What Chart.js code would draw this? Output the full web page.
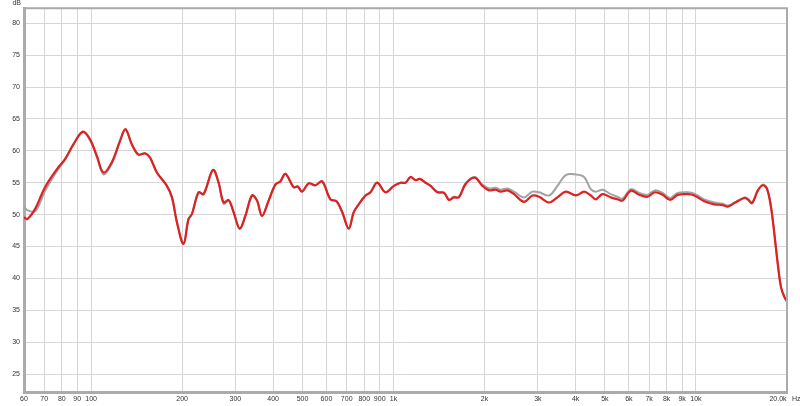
<!DOCTYPE html>
<html>
<head>
<meta charset="utf-8">
<script src="https://cdn.jsdelivr.net/npm/chart.js@4.4.1/dist/chart.umd.min.js"></script>
<style>
  html, body { margin: 0; padding: 0; background: #fff; }
  #wrap { width: 800px; height: 406px; }
</style>
</head>
<body>
<div id="wrap"><canvas id="chart-fr" width="800" height="406"></canvas></div>
<script>
// ── Données ─────────────────────────────────────────────────────────────────
const freqs = [
  60, 61.5, 65.3, 70.4, 77, 82, 87.4, 93.9, 99.2, 104.5,
  109.9, 117.1, 124.7, 129.9, 136.4, 143.5, 150.9, 156.8, 165, 178.1,
  185.1, 192.2, 202.1, 209.9, 215.5, 226.7, 235.4, 252.9, 264, 274.3,
  284.9, 295.9, 309.9, 323.6, 340.5, 353.7, 367.5, 386.4, 406.7, 422.5,
  438.9, 467.7, 482.1, 498.5, 524.3, 551.8, 580.7, 618.4, 647.6, 676.4,
  711.2, 738.8, 767.5, 807.8, 839, 883.1, 940.8, 1003, 1055, 1096,
  1138, 1183, 1222, 1276, 1326, 1396, 1468, 1525, 1584, 1645,
  1731, 1855, 1967, 2068, 2177, 2261, 2380, 2503, 2701, 2879,
  3028, 3268, 3484, 3711, 4007, 4267, 4490, 4664, 4911, 5232,
  5506, 5718, 6092, 6489, 6918, 7314, 7757, 8222, 8699, 9389,
  9872, 10650, 11497, 12260, 12737, 13395, 14454, 14830, 15330, 16012,
  16632, 17184, 17717, 18166, 18640, 19115, 19603, 20000
];

const redDb = [
  49.6, 49.3, 50.9, 54.3, 57.1, 58.7, 61.0, 63.0, 61.8, 59.2,
  56.6, 58.2, 61.6, 63.4, 61.0, 59.4, 59.6, 58.9, 56.6, 54.5,
  52.7, 48.8, 45.4, 49.3, 50.1, 53.5, 53.2, 57.0, 55.0, 51.9,
  52.3, 50.4, 47.8, 49.8, 53.0, 52.2, 49.8, 52.2, 54.7, 55.2,
  56.4, 54.3, 54.4, 53.6, 54.9, 54.6, 55.2, 52.4, 52.1, 50.4,
  47.8, 50.4, 51.6, 53.0, 53.5, 55.0, 53.5, 54.5, 55.0, 55.0,
  55.9, 55.4, 55.6, 55.0, 54.5, 53.5, 53.4, 52.3, 52.7, 52.7,
  54.8, 55.8, 54.5, 53.8, 53.9, 53.6, 53.8, 53.2, 52.0, 53.0,
  52.8, 51.9, 52.7, 53.6, 53.0, 53.6, 53.0, 52.4, 53.2, 52.7,
  52.4, 52.2, 53.75, 53.1, 52.8, 53.5, 53.1, 52.3, 53.1, 53.2,
  53.0, 52.1, 51.6, 51.5, 51.25, 51.8, 52.6, 52.4, 51.8, 53.75,
  54.6, 54.0, 51.1, 47.0, 42.3, 38.6, 37.1, 36.4
];

const grayDb = [
  51.2, 50.7, 50.5, 53.7, 56.8, 58.6, 61.0, 62.9, 61.7, 59.0,
  56.3, 58.0, 61.5, 63.3, 61.0, 59.4, 59.6, 58.9, 56.6, 54.5,
  52.7, 48.8, 45.4, 49.3, 50.1, 53.5, 53.2, 57.0, 55.0, 51.7,
  52.2, 50.4, 47.8, 49.8, 53.0, 52.2, 49.8, 52.2, 54.7, 55.2,
  56.4, 54.3, 54.4, 53.6, 54.9, 54.6, 55.3, 52.4, 52.1, 50.4,
  47.8, 50.4, 51.6, 53.0, 53.5, 55.0, 53.5, 54.5, 55.0, 55.0,
  55.9, 55.4, 55.6, 55.0, 54.5, 53.6, 53.5, 52.4, 52.8, 52.8,
  54.9, 55.9, 54.7, 54.1, 54.2, 53.9, 54.1, 53.6, 52.7, 53.6,
  53.5, 53.0, 54.5, 56.2, 56.3, 55.9, 54.0, 53.6, 53.9, 53.2,
  52.8, 52.5, 54.0, 53.4, 53.1, 53.8, 53.4, 52.6, 53.4, 53.5,
  53.3, 52.4, 51.9, 51.7, 51.4, 51.9, 52.7, 52.5, 51.9, 53.8,
  54.7, 54.1, 51.1, 47.0, 42.3, 38.6, 37.1, 36.4
];

const xTickValues = [60, 70, 80, 90, 100, 200, 300, 400, 500, 600, 700, 800, 900,
  1000, 2000, 3000, 4000, 5000, 6000, 7000, 8000, 9000, 10000, 20000];
const xTickLabels = ['60', '70', '80', '90', '100', '200', '300', '400', '500', '600', '700', '800', '900',
  '1k', '2k', '3k', '4k', '5k', '6k', '7k', '8k', '9k', '10k', '20.0k'];
const yTickValues = [25, 30, 35, 40, 45, 50, 55, 60, 65, 70, 75, 80];

// ── Style ────────────────────────────────────────────────────────────────────
const RED   = '#dc2222';
const GRAY  = '#a2a2a2';
const GRID  = '#d6d6d6';
const FRAME = '#ababab';
const TEXT  = '#333333';
const FONT  = "'Liberation Sans', Arial, sans-serif";

// Cadre haut/droite + libellés d'unités
const framePlugin = {
  id: 'frame',
  afterDraw(chart) {
    const { ctx, chartArea: a } = chart;
    ctx.save();
    ctx.strokeStyle = FRAME;
    ctx.lineWidth = 2;
    ctx.beginPath();
    ctx.moveTo(a.left, a.top);
    ctx.lineTo(a.right, a.top);
    ctx.lineTo(a.right, a.bottom);
    ctx.stroke();

    ctx.fillStyle = TEXT;
    ctx.font = `7px ${FONT}`;
    ctx.textBaseline = 'top';
    ctx.textAlign = 'right';
    ctx.fillText('dB', a.left - 3, 0);
    ctx.textAlign = 'center';
    ctx.fillText(xTickLabels[xTickLabels.length - 1], a.right - 9, a.bottom + 4);
    ctx.textAlign = 'left';
    ctx.fillText('Hz', a.right + 5, a.bottom + 4);
    ctx.restore();
  }
};

new Chart(document.getElementById('chart-fr'), {
  type: 'line',
  data: {
    datasets: [
      {
        label: 'mesure',
        data: freqs.map((f, i) => ({ x: f, y: redDb[i] })),
        borderColor: RED,
        borderWidth: 2.2,
        pointRadius: 0,
        tension: 0.35,
      },
      {
        label: 'référence',
        data: freqs.map((f, i) => ({ x: f, y: grayDb[i] })),
        borderColor: GRAY,
        borderWidth: 2,
        pointRadius: 0,
        tension: 0.35,
      },
    ],
  },
  options: {
    responsive: false,
    animation: false,
    layout: { padding: { top: 7, right: 13, left: 0, bottom: 0 } },
    plugins: { legend: { display: false }, tooltip: { enabled: false } },
    scales: {
      x: {
        type: 'logarithmic',
        min: 60,
        max: 20000,
        afterBuildTicks: s => { s.ticks = xTickValues.map(v => ({ value: v })); },
        afterFit: s => { s.height = 14; },
        grid: { color: GRID, lineWidth: 1, drawTicks: false },
        border: { color: FRAME, width: 3 },
        ticks: {
          autoSkip: false,
          maxRotation: 0,
          padding: 3,
          color: TEXT,
          font: { family: FONT, size: 7 },
          callback: v => {
            const i = xTickValues.indexOf(v);
            return i < 0 || v === 20000 ? '' : xTickLabels[i];
          },
        },
      },
      y: {
        min: 22.2,
        max: 82.35,
        afterBuildTicks: s => { s.ticks = yTickValues.map(v => ({ value: v })); },
        afterFit: s => { s.width = 24; },
        grid: { color: GRID, lineWidth: 1, drawTicks: false },
        border: { color: FRAME, width: 3 },
        ticks: {
          padding: 4,
          color: TEXT,
          font: { family: FONT, size: 7 },
        },
      },
    },
  },
  plugins: [framePlugin],
});
</script>
</body>
</html>
